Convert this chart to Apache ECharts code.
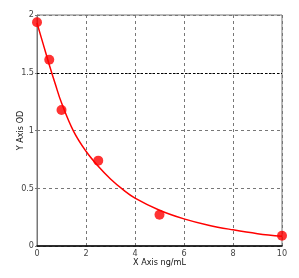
<!DOCTYPE html>
<html><head><meta charset="utf-8">
<script src="https://cdn.jsdelivr.net/npm/echarts@6/dist/echarts.min.js"></script>
<style>html,body{margin:0;padding:0;background:#fff}#c{width:299px;height:278px}</style>
</head><body><div id="c"></div>
<script>
var pointX = [0, 0.5, 1, 2.5, 5, 10];
var pointY = [1.937, 1.613, 1.177, 0.739, 0.271, 0.089];
var curveX = [0, 0.25, 0.5, 0.75, 1, 1.5, 2, 2.5, 3, 3.5, 4, 5, 6, 7, 8, 9, 10];
var curveY = [1.93, 1.75, 1.57, 1.40, 1.24, 0.99, 0.82, 0.69, 0.58, 0.49, 0.415, 0.31, 0.235, 0.18, 0.14, 0.107, 0.084];
var xTicks = [0, 2, 4, 6, 8, 10];
var yTicks = [0, 0.5, 1, 1.5, 2];
var xName = 'X Axis ng/mL';
var yName = 'Y Axis OD';
var font = '"DejaVu Sans Condensed", "Liberation Sans Narrow", "Liberation Sans", Arial, sans-serif';
var chart = echarts.init(document.getElementById('c'));
chart.setOption({
  animation: false,
  grid: {left: 37, right: 17, top: 15, bottom: 32, show: true, borderColor: '#777', borderWidth: 1,
    containLabel: false, outerBoundsMode: 'none'},
  xAxis: {
    type: 'value', min: 0, max: 10, interval: 2,
    name: xName, nameLocation: 'middle', nameGap: 12, nameMoveOverlap: false,
    nameTextStyle: {fontFamily: font, fontSize: 9, color: '#111'},
    axisLine: {lineStyle: {color: '#000', width: 1.5}},
    axisTick: {show: false},
    axisLabel: {fontFamily: font, fontSize: 9, color: '#444', margin: 3,
      formatter: function (v) { return xTicks.indexOf(v) >= 0 ? String(v) : ''; }},
    splitLine: {show: true, lineStyle: {color: '#777', type: [3, 3], width: 1}}
  },
  yAxis: {
    type: 'value', min: 0, max: 2, interval: 0.5,
    name: yName, nameLocation: 'middle', nameGap: 12, nameMoveOverlap: false,
    nameTextStyle: {fontFamily: font, fontSize: 9, color: '#111'},
    axisLine: {show: true, lineStyle: {color: '#777', width: 1}},
    axisTick: {show: true, length: 2, lineStyle: {color: '#777'}},
    axisLabel: {fontFamily: font, fontSize: 9, color: '#444', margin: 3,
      formatter: function (v) { return yTicks.indexOf(v) >= 0 ? String(v) : ''; }},
    splitLine: {show: true, lineStyle: {color: '#777', type: [3, 3], width: 1}}
  },
  series: [
    {
      type: 'line', data: curveX.map(function (x, i) { return [x, curveY[i]]; }),
      smooth: 0.4, showSymbol: false, symbol: 'none',
      lineStyle: {color: '#ff0000', width: 1.5}, z: 3,
      markLine: {silent: true, symbol: 'none', label: {show: false},
        lineStyle: {color: '#000', type: [2, 2], width: 1.2},
        data: [{yAxis: 1.5}]}
    },
    {
      type: 'scatter', data: pointX.map(function (x, i) { return [x, pointY[i]]; }),
      symbol: 'circle', symbolSize: 10, itemStyle: {color: '#ff0000'}, z: 4
    }
  ]
});
</script></body></html>
